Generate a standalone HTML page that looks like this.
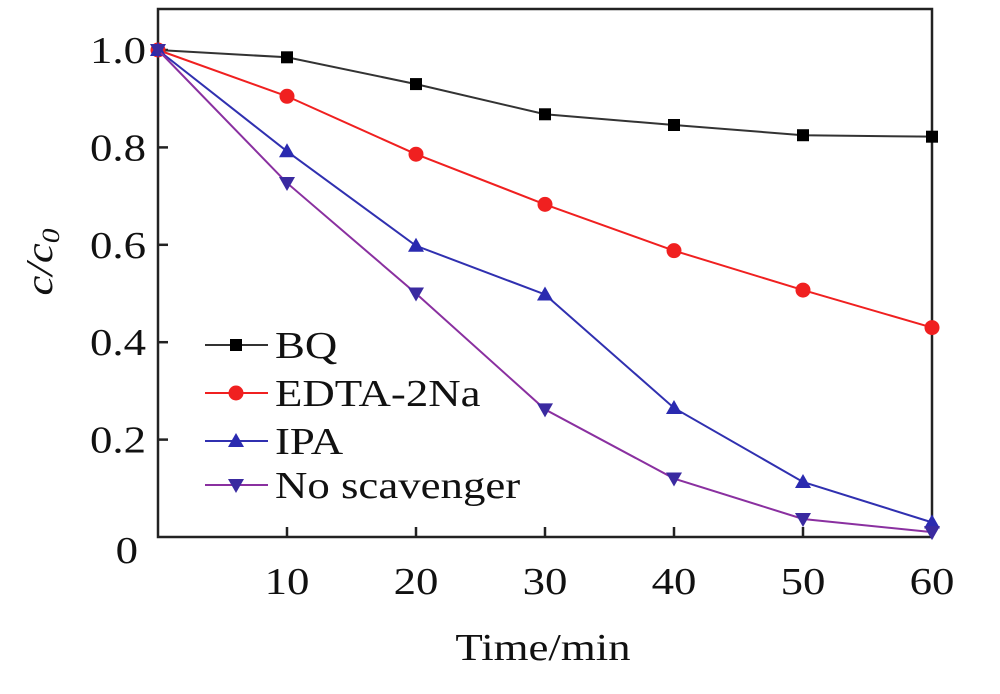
<!DOCTYPE html>
<html><head><meta charset="utf-8"><style>
body{margin:0;background:#fff}
svg text{font-family:"Liberation Serif",serif;fill:#111}
</style></head><body>
<svg width="1000" height="689" id="c">
<rect x="158" y="9" width="774" height="528" fill="none" stroke="#222" stroke-width="2.5"/>
<g id="ticks"></g><g id="series"></g><g id="legend"></g>
<g transform="translate(543,660) scale(1.18,1)"><text x="0" y="0" font-size="38" text-anchor="middle">Time/min</text></g>
<g transform="translate(52,262) rotate(-90) scale(1.18,1)"><text x="0" y="0" font-size="38" text-anchor="middle" font-style="italic">c/c<tspan font-size="25" dy="7">0</tspan></text></g>
</svg>
<script>
const times=[0,10,20,30,40,50,60];
const bq=[1,0.985,0.93,0.868,0.846,0.825,0.822];
const edta=[1,0.905,0.786,0.683,0.588,0.507,0.43];
const ipa=[1,0.792,0.598,0.498,0.265,0.113,0.03];
const noScav=[1,0.727,0.5,0.262,0.12,0.037,0.01];
const xTicks=[10,20,30,40,50,60];
const yTicks=[0.2,0.4,0.6,0.8,1.0];
const yTickLabels=["0.2","0.4","0.6","0.8","1.0"];
const names=["BQ","EDTA-2Na","IPA","No scavenger"];
const NS="http://www.w3.org/2000/svg";
const X=v=>158+v*(774/60), Y=v=>537-v*487;
function mk(t,a,p){const e=document.createElementNS(NS,t);for(const k in a)e.setAttribute(k,a[k]);p.appendChild(e);return e;}
function txt(x,y,s,anchor,p){const g=mk('g',{transform:`translate(${x},${y}) scale(1.18,1)`},p);const t=mk('text',{x:0,y:0,'font-size':38,'text-anchor':anchor},g);t.textContent=s;return t;}
const tg=document.getElementById('ticks');
xTicks.forEach(t=>{
 const l=mk('line',{x1:X(t),x2:X(t),y1:537,y2:527,stroke:'#222','stroke-width':2.5},tg);
 
 
 const tx=txt(X(t),594,t,'middle',tg);
 
 
});
yTicks.forEach((t,i)=>{
 const l=mk('line',{x1:158,x2:168,y1:Y(t),y2:Y(t),stroke:'#222','stroke-width':2.5},tg);
 
 
 const tx=txt(146,Y(t)+13,yTickLabels[i],'end',tg);
 
 
});
const z=txt(138,563,'0','end',tg);


const cols=['#333','#f02020','#3030b0','#8a30a0'];
const mcols=['#000','#f02020','#2a2ab0','#3a2aa0'];
const data=[bq,edta,ipa,noScav];
function marker(k,x,y,p){
 if(k==0)return mk('rect',{x:x-6,y:y-6,width:12,height:12,fill:mcols[0]},p);
 if(k==1)return mk('circle',{cx:x,cy:y,r:7.5,fill:mcols[1]},p);
 if(k==2)return mk('polygon',{points:`${x},${y-8} ${x-8},${y+6} ${x+8},${y+6}`,fill:mcols[2]},p);
 return mk('polygon',{points:`${x},${y+8} ${x-8},${y-6} ${x+8},${y-6}`,fill:mcols[3]},p);
}
const sg=document.getElementById('series');
data.forEach((d,k)=>{
 const g=mk('g',{},sg);
 
 
 mk('polyline',{points:d.map((v,i)=>X(times[i])+','+Y(v)).join(' '),fill:'none',stroke:cols[k],'stroke-width':2},g);
 d.forEach((v,i)=>{const m=marker(k,X(times[i]),Y(v),g);
  
  });
});
const lg=document.getElementById('legend');
const ly=[345,393,441,485];
names.forEach((n,k)=>{
 const g=mk('g',{},lg);
 
 
 mk('line',{x1:205,x2:268,y1:ly[k],y2:ly[k],stroke:cols[k],'stroke-width':2},g);
 marker(k,236,ly[k],g);
 txt(275,ly[k]+13,n,'start',g);
});
</script>
</body></html>
